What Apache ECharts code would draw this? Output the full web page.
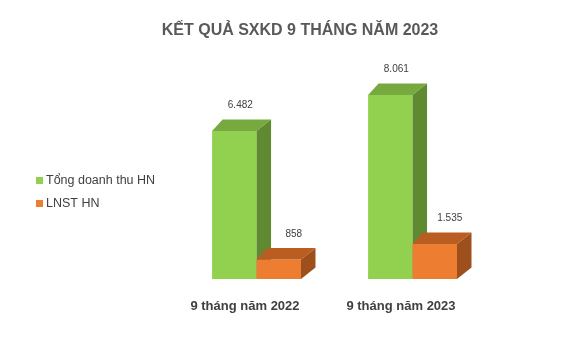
<!DOCTYPE html>
<html>
<head>
<meta charset="utf-8">
<script src="https://cdn.jsdelivr.net/npm/echarts@6/dist/echarts.min.js"></script>
<style>
html,body{margin:0;padding:0;background:#fff;}
#chart{width:587px;height:363px;}
</style>
</head>
<body>
<div id="chart"></div>
<script>
const titleText = 'KẾT QUẢ SXKD 9 THÁNG NĂM 2023';
const categories = ['9 tháng năm 2022', '9 tháng năm 2023'];
const seriesNames = ['Tổng doanh thu HN', 'LNST HN'];
const revenue = [6482, 8061];
const profit = [858, 1535];

const FONT = '"Liberation Sans", Arial, sans-serif';

function fmt(v) {
  return String(Math.round(v)).replace(/\B(?=(\d{3})+(?!\d))/g, '.');
}

function make3D(sideSign, faces, labelDx) {
  return function (params, api) {
    const cat = api.value(0), val = api.value(1);
    const top = api.coord([cat, val]);
    const base = api.coord([cat, 0]);
    const band = api.size([1, 0])[0];
    const bw = band * 0.285;
    const off = band * 0.074;
    const cx = top[0] + off;
    const x0 = sideSign < 0 ? cx - bw : cx;
    const x1 = x0 + bw;
    const dxL = 10.5, dxR = 14.5, dy = -11.5;
    const yT = top[1], yB = base[1];
    return {
      type: 'group',
      children: [
        {type: 'rect', shape: {x: x0, y: yT, width: bw, height: yB - yT}, style: {fill: faces.front}},
        {type: 'polygon', shape: {points: [[x0, yT], [x1, yT], [x1 + dxR, yT + dy], [x0 + dxL, yT + dy]]}, style: {fill: faces.top}},
        {type: 'polygon', shape: {points: [[x1, yT], [x1 + dxR, yT + dy], [x1 + dxR, yB + dy], [x1, yB]]}, style: {fill: faces.side}},
        {type: 'text', style: {text: fmt(val), x: (x0 + x1) / 2 + labelDx, y: yT + dy - 14,
          align: 'center', verticalAlign: 'middle', fill: '#404040', font: '10px ' + FONT}}
      ]
    };
  };
}

const chart = echarts.init(document.getElementById('chart'));
chart.setOption({
  animation: false,
  backgroundColor: '#fff',
  title: {
    text: titleText,
    left: 300, top: 23, textAlign: 'center', padding: 0,
    textStyle: {fontFamily: FONT, fontSize: 16, fontWeight: 'bold', color: '#595959'}
  },
  legend: {
    orient: 'vertical', left: 31, top: 169,
    itemWidth: 7, itemHeight: 7, itemGap: 10,
    icon: 'rect',
    data: seriesNames,
    textStyle: {fontFamily: FONT, fontSize: 12.5, color: '#404040', padding: [0, 0, 0, -2]}
  },
  grid: {left: 167, right: 108, top: 73.6, bottom: 84},
  xAxis: {
    type: 'category', data: categories,
    axisLine: {show: false}, axisTick: {show: false},
    axisLabel: {margin: 21, fontFamily: FONT, fontSize: 13, fontWeight: 'bold', color: '#404040'}
  },
  yAxis: {type: 'value', min: 0, max: 9000, show: false, splitLine: {show: false}},
  series: [
    {
      name: seriesNames[0], type: 'custom', clip: false,
      itemStyle: {color: '#92D050'},
      renderItem: make3D(-1, {front: '#92D050', top: '#77A93F', side: '#5F8A31'}, 6),
      data: revenue.map((v, i) => [i, v])
    },
    {
      name: seriesNames[1], type: 'custom', clip: false,
      itemStyle: {color: '#ED7D31'},
      renderItem: make3D(1, {front: '#ED7D31', top: '#BA5D21', side: '#9E501C'}, 15),
      data: profit.map((v, i) => [i, v])
    }
  ]
});
</script>
</body>
</html>
